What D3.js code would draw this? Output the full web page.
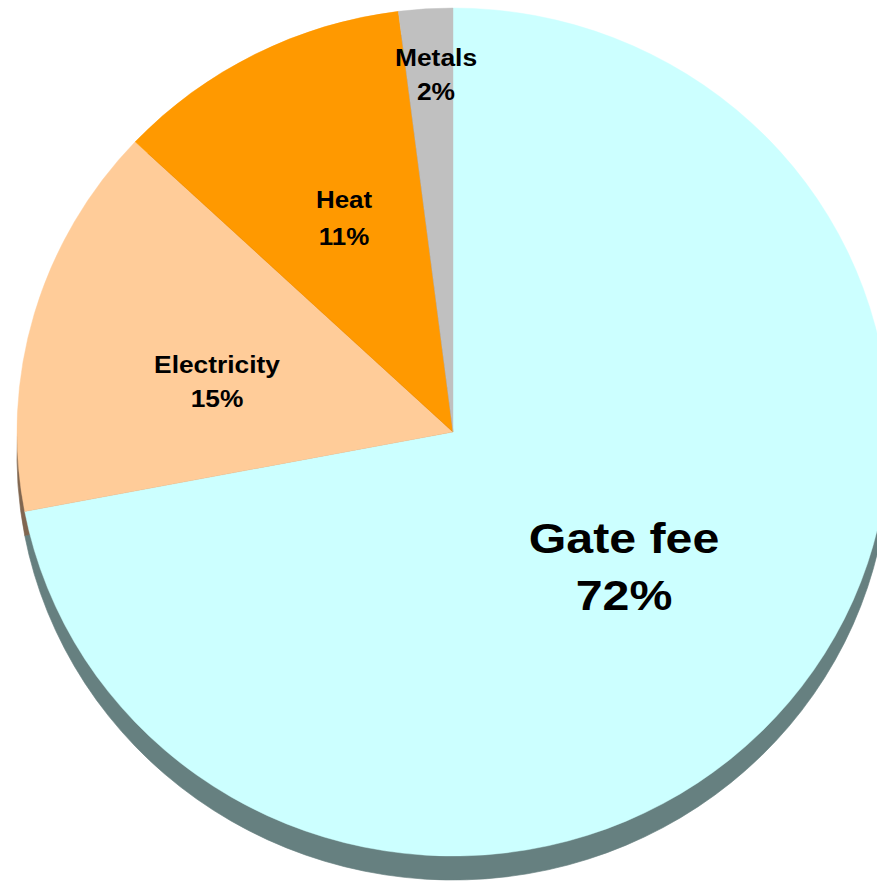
<!DOCTYPE html>
<html>
<head>
<meta charset="utf-8">
<script src="https://cdn.jsdelivr.net/npm/d3@7/dist/d3.min.js"></script>
<style>
  html, body { margin: 0; padding: 0; background: #ffffff; }
  svg { display: block; }
  text { font-family: "Liberation Sans", Arial, sans-serif; font-weight: bold; fill: #000; }
</style>
</head>
<body>
<svg id="chart" width="877" height="881"></svg>
<script>
// Revenue breakdown, in percent
const categories = ["Gate fee", "Electricity", "Heat", "Metals"];
const shares = [72, 15, 11, 2];
const labels = ["72%", "15%", "11%", "2%"];
const topColors = ["#CCFFFF", "#FFCC99", "#FF9900", "#C0C0C0"];
const sideColors = ["#668080", "#806650", "#804C00", "#606060"];

// Layout of the tilted pie
const cx = 453, cy = 432;
const rx = 436, ry = 424;   // top face is slightly flattened
const depth = 24;           // visible thickness of the disc

// Label blocks: centre x and the two baselines, plus type size
const labelLayout = {
  "Gate fee":    { x: 624, y1: 553, y2: 610, size: 42, sx: 1.15 },
  "Electricity": { x: 217, y1: 373, y2: 407, size: 23.5, sx: 1.12 },
  "Heat":        { x: 344, y1: 208, y2: 245, size: 24, sx: 1.08 },
  "Metals":      { x: 436, y1: 66,  y2: 100, size: 24, sx: 1.1 }
};

const svg = d3.select("#chart");

const data = categories.map((c, i) => ({ name: c, value: shares[i], label: labels[i], i }));

const pie = d3.pie().value(d => d.value).sort(null);
const arcs = pie(data);

const R = 100;
const arc = d3.arc().innerRadius(0).outerRadius(R);
const ellipse = `scale(${rx / R},${ry / R})`;

// Side of the disc: the same wedges, shaded and pushed down
const sideLayer = svg.append("g").attr("transform", `translate(${cx},${cy + depth}) ${ellipse}`);
sideLayer.selectAll("path")
  .data(arcs)
  .join("path")
  .attr("d", arc)
  .attr("fill", d => sideColors[d.data.i])
  .attr("stroke", d => sideColors[d.data.i])
  .attr("stroke-width", 0.15);

// Top face
const faceLayer = svg.append("g").attr("transform", `translate(${cx},${cy}) ${ellipse}`);
faceLayer.selectAll("path")
  .data(arcs)
  .join("path")
  .attr("d", arc)
  .attr("fill", d => topColors[d.data.i])
  .attr("stroke", d => topColors[d.data.i])
  .attr("stroke-width", 0.1);

// Category and share labels
const labelLayer = svg.append("g");
data.forEach(d => {
  const L = labelLayout[d.name];
  const g = labelLayer.append("g")
    .attr("transform", `translate(${L.x},0) scale(${L.sx},1)`);
  g.append("text")
    .attr("x", 0).attr("y", L.y1)
    .attr("text-anchor", "middle")
    .attr("font-size", L.size)
    .text(d.name);
  g.append("text")
    .attr("x", 0).attr("y", L.y2)
    .attr("text-anchor", "middle")
    .attr("font-size", L.size)
    .text(d.label);
});
</script>
</body>
</html>
